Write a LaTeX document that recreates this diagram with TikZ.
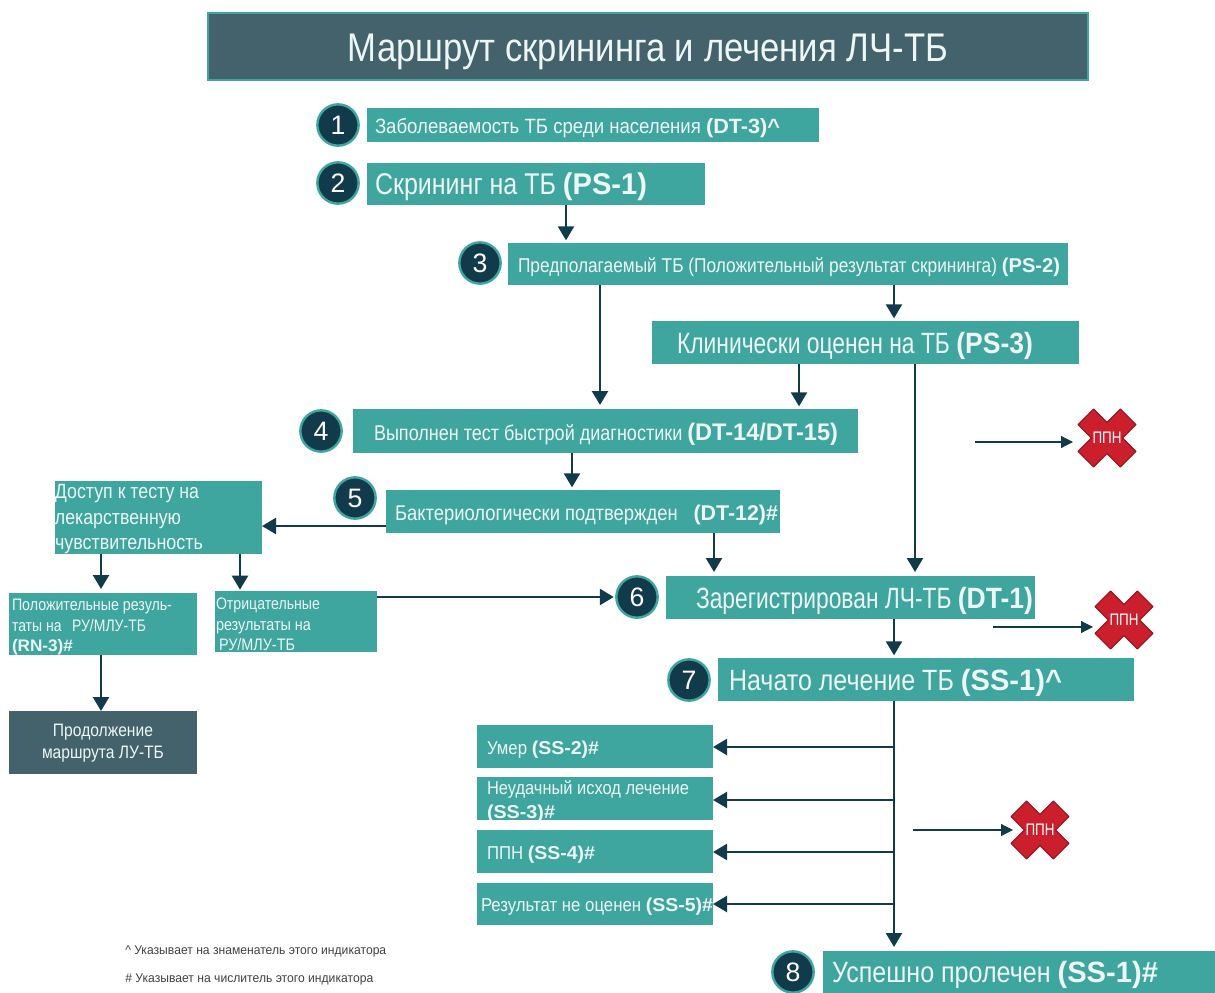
\documentclass[tikz,border=0pt]{standalone}
\usepackage{fontspec}
\usepackage{graphicx}
\setmainfont{Liberation Sans}
\newfontfamily\cond[FakeStretch=0.86]{Liberation Sans}
\usetikzlibrary{arrows.meta}
\definecolor{tealbox}{HTML}{3FA69F}
\definecolor{slatebox}{HTML}{44626B}
\definecolor{inkdark}{HTML}{113A4A}
\definecolor{crossred}{HTML}{CC1F2D}
\definecolor{crossedge}{HTML}{96151F}
\definecolor{boxtext}{HTML}{EDF6F5}
\tikzset{
  x=0.75pt,y=-0.75pt,
  nbox/.style={fill=tealbox,inner sep=0pt,outer sep=0pt,text=boxtext},
  darkbox/.style={nbox,fill=slatebox},
  titlebox/.style={nbox,fill=slatebox,draw=tealbox,line width=1.6pt},
  numc/.style={circle,fill=inkdark,draw=tealbox,line width=1.8pt,minimum size=31pt,inner sep=0pt,text=white,font=\fontsize{20}{24}\selectfont},
  arr/.style={draw=inkdark,line width=1.8pt,-{Triangle[length=10.5pt,width=12pt]}},
  thinarr/.style={draw=inkdark,line width=0.9pt,-{Triangle[length=9pt,width=9pt]}},
  foot/.style={inner sep=0pt,anchor=west,text=black!75}
}
% one line of text, set at a size (pt) and fitted to a width (px)
\newcommand\fitline[3]{\fontsize{#1}{#1}\selectfont\baselineskip=1.24\dimexpr#1pt\relax\resizebox{#2\dimexpr0.75pt\relax}{\height}{#3}\par}
\newcommand\B[1]{{\normalfont\bfseries #1}}
% [style]{name}{x1}{y1}{x2}{y2}{left pad}{lines}
\newcommand\bx[7][nbox]{%
  \pgfmathsetlengthmacro\bw{(#5-#3)*0.75pt}%
  \pgfmathsetlengthmacro\bh{(#6-#4)*0.75pt}%
  \pgfmathsetlengthmacro\bp{#7*0.75pt}%
  \bxb[#1]{#2}{#3}{#4}{#5}{#6}}
\newcommand\bxb[6][nbox]{%
  \def\bxstyle{#1}\def\bxname{#2}\def\bxcx{(#3+#5)/2}\def\bxcy{(#4+#6)/2}\bxc}
\newcommand\bxc[1]{%
  \node[\bxstyle,minimum width=\bw,minimum height=\bh] (\bxname) at ({\bxcx},{\bxcy})
   {\smash{\raisebox{-4.75pt}{\hbox to \bw{\hspace*{\bp}\parbox[c]{\dimexpr\bw-\bp\relax}{\cond #1}\hss}}}};}
\newcommand\xmk[3]{%
  \begin{scope}[shift={(#2,#3)},rotate=45]
    \filldraw[fill=crossred,draw=crossedge,line width=0.8pt,line join=round]
      (-11,-30)--(11,-30)--(11,-11)--(30,-11)--(30,11)--(11,11)--(11,30)--(-11,30)--(-11,11)--(-30,11)--(-30,-11)--(-11,-11)--cycle;
  \end{scope}
  \node[inner sep=0pt,text=white] (#1) at (#2,#3) {\fontsize{12.5}{12.5}\selectfont\cond\resizebox{29\dimexpr0.75pt\relax}{\height}{ППН}};}
\begin{document}
\begin{tikzpicture}
\useasboundingbox (0,0) rectangle (1215,993);
\bx[titlebox]{title}{208}{13}{1088}{80}{0}{\vspace*{3pt}\centering\fitline{30}{600}{\normalfont Маршрут скрининга и лечения ЛЧ-ТБ}}
\bx{b1}{367}{108}{819}{142}{8}{\fitline{15.5}{405}{Заболеваемость ТБ среди населения \B{(DT-3)\^{}}}}
\bx{b2}{367}{163}{705}{205}{8}{\fitline{22.5}{272}{Скрининг на ТБ \B{(PS-1)}}}
\bx{b3}{508}{243}{1068}{285}{10}{\fitline{15}{542}{Предполагаемый ТБ (Положительный результат скрининга) \B{(PS-2)}}}
\bx{bk}{652}{321}{1079}{364}{25}{\fitline{22}{356}{Клинически оценен на ТБ \B{(PS-3)}}}
\bx{b4}{353}{409}{858}{453}{21}{\fitline{16}{464}{Выполнен тест быстрой диагностики \B{\fontsize{18}{18}\selectfont (DT-14/DT-15)}}}
\bx{b5}{386}{490}{780}{533}{9}{\fitline{16}{383}{Бактериологически подтвержден\hspace{0.5em} \B{(DT-12)\#}}}
\bx{acc}{55}{481}{262}{554}{0}{\vspace*{-2pt}\fitline{15.5}{144}{Доступ к тесту на}\fitline{15.5}{126}{лекарственную}\fitline{15.5}{148}{чувствительность}}
\bx{pos}{9}{593}{197}{655}{3}{\fitline{12.5}{160}{Положительные резуль-}\fitline{12.5}{134}{таты на\hspace{0.4em} РУ/МЛУ-ТБ}\fitline{12.5}{61}{\B{(RN-3)\#}}}
\bx{neg}{215}{591}{377}{652}{1}{\fitline{12.5}{104}{Отрицательные}\fitline{12.5}{95}{результаты на}\hbox{\hspace*{3\dimexpr0.75pt\relax}\fitline{12.5}{76}{РУ/МЛУ-ТБ}}}
\bx[darkbox]{cont}{9}{711}{197}{774}{0}{\vspace*{-3pt}\centering\fitline{13.5}{100}{Продолжение}\fitline{13.5}{122}{маршрута ЛУ-ТБ}}
\bx{b6}{666}{576}{1035}{619}{30}{\fitline{22}{337}{Зарегистрирован ЛЧ-ТБ \B{(DT-1)}}}
\bx{b7}{718}{658}{1134}{701}{11}{\fitline{22}{333}{Начато лечение ТБ \B{(SS-1)\^{}}}}
\bx{s2}{477}{725}{713}{768}{10}{\fitline{14}{112}{Умер \B{(SS-2)\#}}}
\bx{s3}{477}{777}{713}{820}{10}{\fitline{14}{202}{Неудачный исход лечение}\fitline{14}{68}{\B{(SS-3)\#}}}
\bx{s4}{477}{830}{713}{873}{10}{\fitline{14}{108}{ППН \B{(SS-4)\#}}}
\bx{s5}{477}{883}{713}{925}{4}{\fitline{14}{232}{Результат не оценен \B{(SS-5)\#}}}
\bx{b8}{823}{951}{1215}{993}{9}{\fitline{22}{326}{Успешно пролечен \B{(SS-1)\#}}}

\node[numc] (n1) at (338,125) {1};
\node[numc] (n2) at (338,183) {2};
\node[numc] (n3) at (480,263) {3};
\node[numc] (n4) at (321,431) {4};
\node[numc] (n5) at (355,498) {5};
\node[numc] (n6) at (637,597) {6};
\node[numc] (n7) at (689,680) {7};
\node[numc] (n8) at (793,972) {8};

\xmk{x1}{1107}{438}
\xmk{x2}{1124}{620}
\xmk{x3}{1040}{830}

\coordinate (f1) at (975,442);
\coordinate (f2) at (993,627);
\coordinate (f3) at (913,830);
\coordinate (t1) at (1073,442);
\coordinate (t2) at (1093,627);
\coordinate (t3) at (1013,830);
\draw[thinarr] (f1) -- (t1);
\draw[thinarr] (f2) -- (t2);
\draw[thinarr] (f3) -- (t3);

\draw[arr,shorten >=2pt] (b2.south -| 566,0) -- (b3.north -| 566,0);
\draw[arr,shorten >=3pt] (b3.south -| 600,0) -- (b4.north -| 600,0);
\draw[arr,shorten >=2pt] (b3.south -| 894,0) -- (bk.north -| 894,0);
\draw[arr,shorten >=2pt] (bk.south -| 799,0) -- (b4.north -| 799,0);
\draw[arr,shorten >=3pt] (bk.south -| 915,0) -- (b6.north -| 915,0);
\draw[arr,shorten >=2pt] (b4.south -| 572,0) -- (b5.north -| 572,0);
\draw[arr] (b5.west |- 0,526) -- (acc.east |- 0,526);
\draw[arr,shorten >=3pt] (b5.south -| 714,0) -- (b6.north -| 714,0);
\draw[arr,shorten >=3pt] (acc.south -| 101,0) -- (pos.north -| 101,0);
\draw[arr,shorten >=1pt] (acc.south -| 240,0) -- (neg.north -| 240,0);
\draw[arr,shorten >=1pt] (neg.east |- 0,597) -- (n6.west);
\draw[arr] (pos.south -| 101,0) -- (cont.north -| 101,0);
\draw[arr,shorten >=2pt] (b6.south -| 894,0) -- (b7.north -| 894,0);
\draw[arr,shorten >=3pt] (b7.south -| 894,0) -- (b8.north -| 894,0);
\coordinate (j2) at (894,747);
\coordinate (j3) at (894,800);
\coordinate (j4) at (894,852);
\coordinate (j5) at (894,904);
\draw[arr] (j2) -- (s2.east |- j2);
\draw[arr] (j3) -- (s3.east |- j3);
\draw[arr] (j4) -- (s4.east |- j4);
\draw[arr] (j5) -- (s5.east |- j5);

\node[foot] (fn1) at (125,951) {\fontsize{9.5}{9.5}\selectfont\resizebox{261\dimexpr0.75pt\relax}{\height}{\^{} Указывает на знаменатель этого индикатора}};
\node[foot] (fn2) at (125,979) {\fontsize{9.5}{9.5}\selectfont\resizebox{248\dimexpr0.75pt\relax}{\height}{\# Указывает на числитель этого индикатора}};
\end{tikzpicture}
\end{document}
